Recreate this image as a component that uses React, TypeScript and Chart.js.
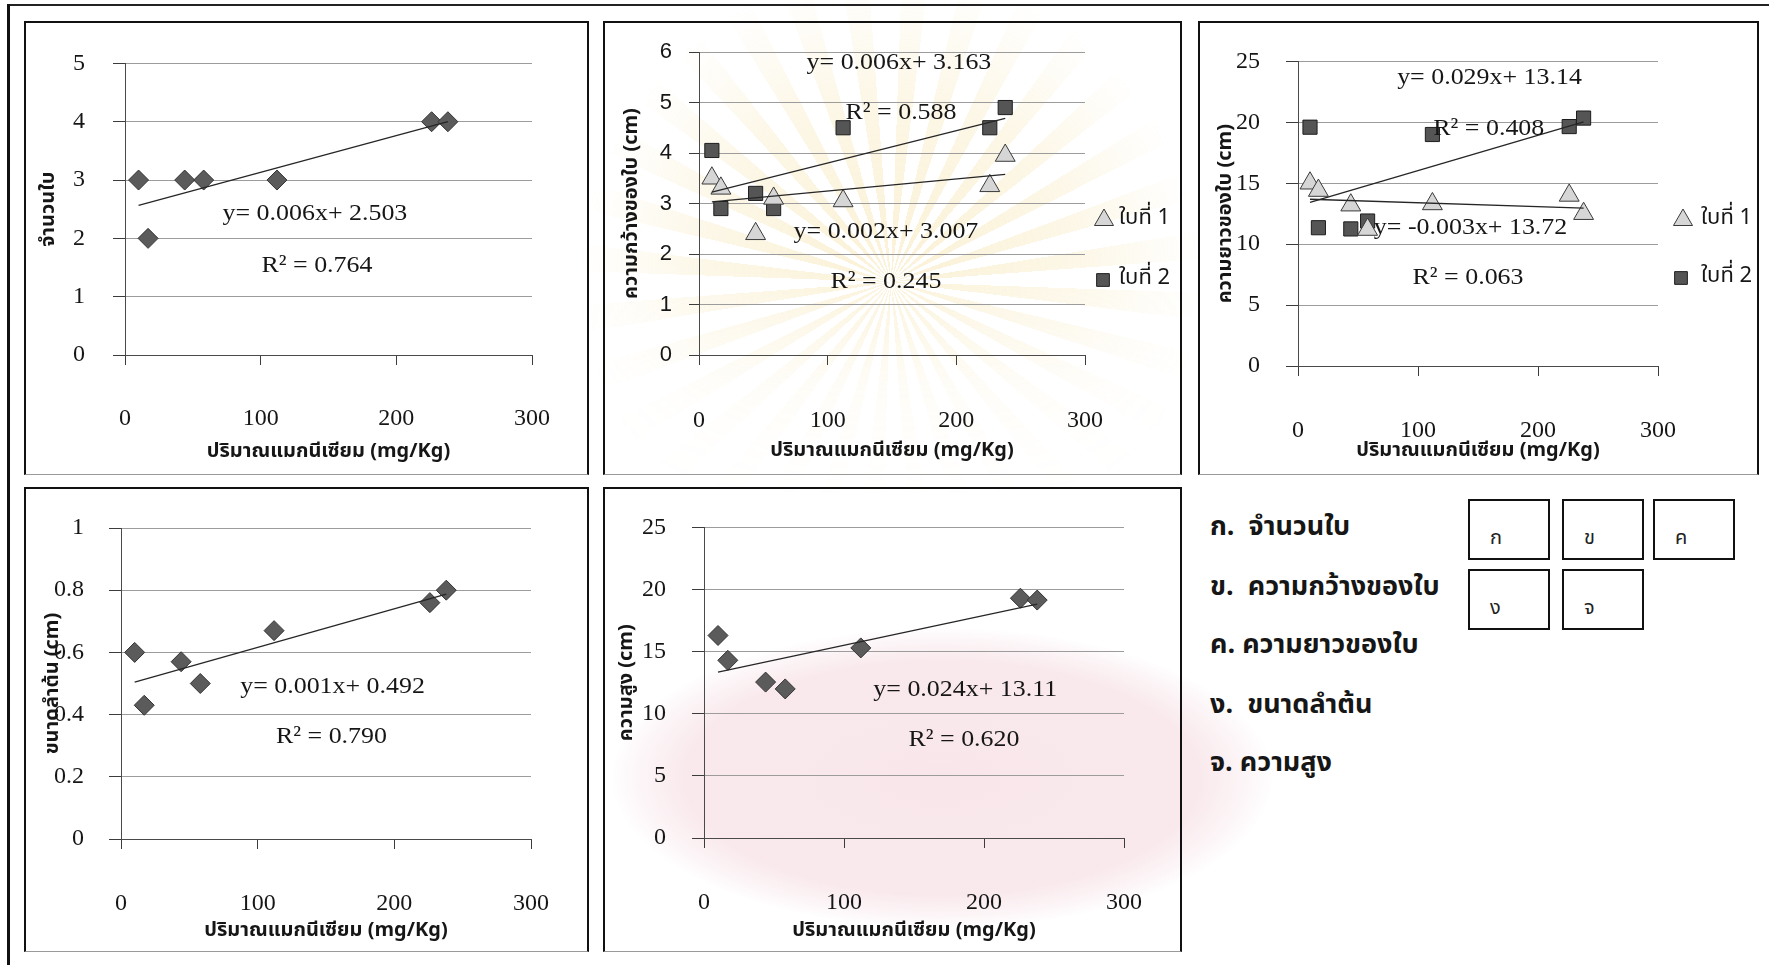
import React, { useEffect, useRef } from 'react';
import { Chart, registerables } from 'chart.js';
import { drawPoint } from 'chart.js/helpers';

Chart.register(...registerables);

// ปริมาณแมกนีเซียมในดิน (mg/Kg) ของแต่ละชุดการทดลอง
const magnesium = [10, 17, 44, 58, 112, 226, 238];
const xTickValues = [0, 100, 200, 300];

// ก. จำนวนใบ
const leafCount = [3, 2, 3, 3, 3, 4, 4];
const leafCountTicks = [0, 1, 2, 3, 4, 5];
// [slope, intercept, R²]; the slope is printed to three decimals
const leafCountFit = [0.0063, 2.503, 0.764];

// ข. ความกว้างของใบ (cm)
const leafWidthFirst = [3.5, 3.3, 2.4, 3.1, 3.05, 3.35, 3.95];
const leafWidthSecond = [4.05, 2.9, 3.2, 2.9, 4.5, 4.5, 4.9];
const leafWidthTicks = [0, 1, 2, 3, 4, 5, 6];
const leafWidthFirstFit = [0.0024, 3.007, 0.245];
const leafWidthSecondFit = [0.0064, 3.163, 0.588];

// ค. ความยาวของใบ (cm)
const leafLengthFirst = [15.0, 14.4, 13.2, 11.2, 13.3, 14.0, 12.5];
const leafLengthSecond = [19.6, 11.35, 11.25, 11.9, 19.0, 19.65, 20.35];
const leafLengthTicks = [0, 5, 10, 15, 20, 25];
const leafLengthFirstFit = [-0.0032, 13.72, 0.063];
const leafLengthSecondFit = [0.029, 13.14, 0.408];

// ง. ขนาดลำต้น (cm)
const stemSize = [0.6, 0.43, 0.57, 0.5, 0.67, 0.76, 0.8];
const stemSizeTicks = [0, 0.2, 0.4, 0.6, 0.8, 1];
const stemSizeFit = [0.00124, 0.492, 0.79];

// จ. ความสูง (cm)
const plantHeight = [16.3, 14.3, 12.55, 12.0, 15.3, 19.3, 19.15];
const plantHeightTicks = [0, 5, 10, 15, 20, 25];
const plantHeightFit = [0.024, 13.11, 0.62];

const seriesNames = ['ใบที่ 1', 'ใบที่ 2'];
const xTitle = 'ปริมาณแมกนีเซียม (mg/Kg)';

const SERIF = "'Liberation Serif', 'Times New Roman', serif";
const SANS = "'Liberation Sans', Arial, sans-serif";
const THAI = "'Noto Sans Thai', 'Noto Serif Thai', 'TH Sarabun New', Garuda, Loma, Kinnari, Norasi, 'Tlwg Typo', 'Liberation Serif', serif";

type Marker = 'diamond' | 'triangle' | 'square';

const markerStyle: Record<Marker, { pointStyle: string; radius: number; fill: string; stroke: string }> = {
  diamond: { pointStyle: 'rectRot', radius: 10, fill: '#5b5b5b', stroke: '#333333' },
  triangle: { pointStyle: 'triangle', radius: 11.5, fill: '#d6d6d6', stroke: '#3a3a3a' },
  square: { pointStyle: 'rect', radius: 10, fill: '#555555', stroke: '#1e1e1e' },
};

type Series = { values: number[]; marker: Marker; fit: number[]; label?: string };
type Note = { text: string; x: number; y: number };
type KeyItem = { series: number; dx: number; tx: number; y: number; radius: number };

type Panel = {
  key: string;
  box: { left: number; top: number; width: number; height: number };
  area: { left: number; top: number; right: number; bottom: number };
  yTicks: number[];
  yTickFont: string;
  yTickSize: number;
  yTickLen: number;
  yTickPad: number;
  yTitle: string;
  yTitlePad: number;
  xTickPad: number;
  xTitlePad: number;
  series: Series[];
  notes: Note[];
  keyItems?: KeyItem[];
};

const eq = (fit: number[]) => `y= ${fit[0].toFixed(3)}x+ ${fit[1]}`;
const r2 = (fit: number[]) => `R² = ${fit[2].toFixed(3)}`;

const panels: Panel[] = [
  {
    key: 'count',
    box: { left: 24, top: 21, width: 565, height: 454 },
    area: { left: 101, top: 40, right: 529, bottom: 334 },
    yTicks: leafCountTicks,
    yTickFont: SERIF,
    yTickSize: 24,
    yTickLen: 12,
    yTickPad: 28,
    yTitle: 'จำนวนใบ',
    yTitlePad: 14,
    xTickPad: 39,
    xTitlePad: 10,
    series: [{ values: leafCount, marker: 'diamond', fit: leafCountFit }],
    notes: [
      { text: eq(leafCountFit), x: 140, y: 2.415 },
      { text: r2(leafCountFit), x: 141.5, y: 1.53 },
    ],
  },
  {
    key: 'width',
    box: { left: 603, top: 21, width: 579, height: 454 },
    area: { left: 96, top: 31, right: 482, bottom: 334 },
    yTicks: leafWidthTicks,
    yTickFont: SANS,
    yTickSize: 22,
    yTickLen: 10,
    yTickPad: 17,
    yTitle: 'ความกว้างของใบ (cm)',
    yTitlePad: 18,
    xTickPad: 41,
    xTitlePad: 11,
    series: [
      { values: leafWidthFirst, marker: 'triangle', fit: leafWidthFirstFit, label: seriesNames[0] },
      { values: leafWidthSecond, marker: 'square', fit: leafWidthSecondFit, label: seriesNames[1] },
    ],
    notes: [
      { text: eq(leafWidthSecondFit), x: 155.4, y: 5.78 },
      { text: r2(leafWidthSecondFit), x: 157, y: 4.79 },
      { text: eq(leafWidthFirstFit), x: 145.3, y: 2.44 },
      { text: r2(leafWidthFirstFit), x: 145.3, y: 1.45 },
    ],
    keyItems: [
      { series: 0, dx: 19, tx: 34, y: 199, radius: 11 },
      { series: 1, dx: 18, tx: 34, y: 259, radius: 9 },
    ],
  },
  {
    key: 'length',
    box: { left: 1198, top: 21, width: 561, height: 454 },
    area: { left: 100, top: 40, right: 460, bottom: 345 },
    yTicks: leafLengthTicks,
    yTickFont: SERIF,
    yTickSize: 24,
    yTickLen: 12,
    yTickPad: 26,
    yTitle: 'ความยาวของใบ (cm)',
    yTitlePad: 17,
    xTickPad: 40,
    xTitlePad: 11,
    series: [
      { values: leafLengthFirst, marker: 'triangle', fit: leafLengthFirstFit, label: seriesNames[0] },
      { values: leafLengthSecond, marker: 'square', fit: leafLengthSecondFit, label: seriesNames[1] },
    ],
    notes: [
      { text: eq(leafLengthSecondFit), x: 159.6, y: 23.69 },
      { text: r2(leafLengthSecondFit), x: 159, y: 19.5 },
      { text: eq(leafLengthFirstFit), x: 143.8, y: 11.39 },
      { text: r2(leafLengthFirstFit), x: 141.7, y: 7.21 },
    ],
    keyItems: [
      { series: 0, dx: 25, tx: 43, y: 199, radius: 11 },
      { series: 1, dx: 23, tx: 43, y: 257, radius: 9 },
    ],
  },
  {
    key: 'stem',
    box: { left: 24, top: 487, width: 565, height: 465 },
    area: { left: 97, top: 41, right: 530, bottom: 352 },
    yTicks: stemSizeTicks,
    yTickFont: SERIF,
    yTickSize: 24,
    yTickLen: 12,
    yTickPad: 25,
    yTitle: 'ขนาดลำต้น (cm)',
    yTitlePad: 18,
    xTickPad: 40,
    xTitlePad: 8,
    series: [{ values: stemSize, marker: 'diamond', fit: stemSizeFit }],
    notes: [
      { text: eq(stemSizeFit), x: 154.8, y: 0.49 },
      { text: r2(stemSizeFit), x: 154, y: 0.329 },
    ],
  },
  {
    key: 'height',
    box: { left: 603, top: 487, width: 579, height: 465 },
    area: { left: 101, top: 40, right: 535, bottom: 351 },
    yTicks: plantHeightTicks,
    yTickFont: SERIF,
    yTickSize: 24,
    yTickLen: 12,
    yTickPad: 26,
    yTitle: 'ความสูง (cm)',
    yTitlePad: 13,
    xTickPad: 40,
    xTitlePad: 8,
    series: [{ values: plantHeight, marker: 'diamond', fit: plantHeightFit }],
    notes: [
      { text: eq(plantHeightFit), x: 186.6, y: 11.9 },
      { text: r2(plantHeightFit), x: 185.7, y: 7.88 },
    ],
  },
];

// Equation and R² text placed in data coordinates
const fitNotesPlugin = {
  id: 'fitNotes',
  afterDatasetsDraw(chart: any, _args: any, opts: any) {
    const items = opts && opts.items;
    if (!items) return;
    const { ctx, scales } = chart;
    for (const n of items) {
      ctx.save();
      ctx.font = `24px ${SERIF}`;
      ctx.fillStyle = '#161616';
      ctx.textAlign = 'center';
      ctx.textBaseline = 'middle';
      ctx.translate(scales.x.getPixelForValue(n.x), scales.y.getPixelForValue(n.y));
      ctx.scale(1.08, 1);
      ctx.fillText(n.text, 0, 0);
      ctx.restore();
    }
  },
};

// Series key drawn beside the plot, using each dataset's own marker styling
const seriesKeyPlugin = {
  id: 'seriesKey',
  afterDraw(chart: any, _args: any, opts: any) {
    const items = opts && opts.items;
    if (!items) return;
    const { ctx, chartArea } = chart;
    ctx.save();
    for (const it of items) {
      const ds = chart.data.datasets[it.series];
      ctx.fillStyle = ds.backgroundColor;
      ctx.strokeStyle = ds.borderColor;
      ctx.lineWidth = 1;
      drawPoint(ctx, { pointStyle: ds.pointStyle, radius: it.radius, borderWidth: 1, rotation: 0 }, chartArea.right + it.dx, it.y);
      ctx.fillStyle = '#161616';
      ctx.font = `22px ${THAI}`;
      ctx.textAlign = 'left';
      ctx.textBaseline = 'middle';
      ctx.fillText(ds.label, chartArea.right + it.tx, it.y);
    }
    ctx.restore();
  },
};

function buildConfig(p: Panel): any {
  const points = p.series.map((s) => ({
    label: s.label || '',
    data: magnesium.map((x, i) => ({ x, y: s.values[i] })),
    pointStyle: markerStyle[s.marker].pointStyle,
    pointRadius: markerStyle[s.marker].radius,
    pointHoverRadius: markerStyle[s.marker].radius,
    backgroundColor: markerStyle[s.marker].fill,
    borderColor: markerStyle[s.marker].stroke,
    pointBorderWidth: 1,
    borderWidth: 1,
    showLine: false,
    order: 2,
  }));
  const xLo = Math.min(...magnesium);
  const xHi = Math.max(...magnesium);
  const trends = p.series.map((s) => ({
    label: '',
    data: [
      { x: xLo, y: s.fit[0] * xLo + s.fit[1] },
      { x: xHi, y: s.fit[0] * xHi + s.fit[1] },
    ],
    showLine: true,
    borderColor: '#262626',
    borderWidth: 1.3,
    pointRadius: 0,
    pointHoverRadius: 0,
    fill: false,
    order: 1,
  }));
  const yTicks = p.yTicks;
  return {
    type: 'scatter',
    data: { datasets: [...points, ...trends] },
    plugins: [fitNotesPlugin, seriesKeyPlugin],
    options: {
      responsive: false,
      maintainAspectRatio: false,
      animation: false,
      devicePixelRatio: 1,
      events: [],
      layout: {
        padding: { left: 0, top: p.area.top, right: p.box.width - p.area.right, bottom: 0 },
      },
      plugins: {
        legend: { display: false },
        tooltip: { enabled: false },
        fitNotes: { items: p.notes },
        seriesKey: { items: p.keyItems || null },
      },
      scales: {
        x: {
          type: 'linear',
          min: xTickValues[0],
          max: xTickValues[xTickValues.length - 1],
          afterBuildTicks: (s: any) => {
            s.ticks = xTickValues.map((v) => ({ value: v }));
          },
          afterFit: (s: any) => {
            s.height = p.box.height - p.area.bottom;
          },
          ticks: {
            font: { family: SERIF, size: 24 },
            color: '#161616',
            padding: p.xTickPad,
            maxRotation: 0,
            autoSkip: false,
            callback: (v: any) => String(v),
          },
          grid: { drawOnChartArea: false, drawTicks: true, tickLength: 10, tickColor: '#3c3c3c', tickWidth: 1 },
          border: { display: true, color: '#4a4a4a', width: 1 },
          title: {
            display: true,
            text: xTitle,
            font: { family: THAI, size: 20, weight: 'bold' },
            color: '#161616',
            padding: { top: 0, bottom: p.xTitlePad },
          },
        },
        y: {
          type: 'linear',
          min: yTicks[0],
          max: yTicks[yTicks.length - 1],
          afterBuildTicks: (s: any) => {
            s.ticks = yTicks.map((v) => ({ value: v }));
          },
          afterFit: (s: any) => {
            s.width = p.area.left;
          },
          ticks: {
            font: { family: p.yTickFont, size: p.yTickSize },
            color: '#161616',
            padding: p.yTickPad,
            autoSkip: false,
            callback: (v: any) => String(v),
          },
          grid: { color: '#9c9c9c', lineWidth: 1, drawTicks: true, tickLength: p.yTickLen, tickColor: '#3c3c3c', tickWidth: 1 },
          border: { display: true, color: '#4a4a4a', width: 1 },
          title: {
            display: true,
            text: p.yTitle,
            font: { family: THAI, size: 20, weight: 'bold' },
            color: '#161616',
            padding: { top: p.yTitlePad, bottom: 0 },
          },
        },
      },
    },
  };
}

function PanelChart({ p }: { p: Panel }) {
  const ref = useRef<HTMLCanvasElement | null>(null);
  useEffect(() => {
    if (!ref.current) return;
    const chart = new Chart(ref.current, buildConfig(p));
    return () => chart.destroy();
  }, [p]);
  return (
    <>
      <canvas
        ref={ref}
        width={p.box.width}
        height={p.box.height}
        style={{ position: 'absolute', left: p.box.left, top: p.box.top, width: p.box.width, height: p.box.height }}
      />
      <div
        style={{
          position: 'absolute',
          left: p.box.left,
          top: p.box.top,
          width: p.box.width,
          height: p.box.height,
          boxSizing: 'border-box',
          borderTop: '2px solid #111',
          borderLeft: '2px solid #111',
          borderRight: '2px solid #111',
          borderBottom: '1px solid #9a9a9a',
          pointerEvents: 'none',
        }}
      />
    </>
  );
}

const keyLines = ['ก.  จำนวนใบ', 'ข.  ความกว้างของใบ', 'ค. ความยาวของใบ', 'ง.  ขนาดลำต้น', 'จ. ความสูง'];
const keyLineY = [527, 587, 645, 705, 763];
const gridLetters = ['ก', 'ข', 'ค', 'ง', 'จ'];
const gridCells = [
  { left: 1468, top: 499 },
  { left: 1562, top: 499 },
  { left: 1653, top: 499 },
  { left: 1468, top: 569 },
  { left: 1562, top: 569 },
];

const rayMask = 'radial-gradient(circle at 50% 50%, rgba(0,0,0,0.85) 8%, rgba(0,0,0,0.55) 30%, rgba(0,0,0,0) 50%)';
const lowerFade = 'linear-gradient(to bottom, rgba(0,0,0,1) 0%, rgba(0,0,0,1) 48%, rgba(0,0,0,0.25) 62%, rgba(0,0,0,0) 75%)';

export default function App() {
  return (
    <div
      style={{
        position: 'absolute',
        left: 0,
        top: 0,
        width: 1769,
        height: 965,
        overflow: 'hidden',
        background: '#ffffff',
        fontFamily: THAI,
      }}
    >
      {/* faint seal in the page background */}
      <div
        style={{
          position: 'absolute',
          left: 891 - 440,
          top: 282 - 440,
          width: 880,
          height: 880,
          WebkitMaskImage: lowerFade,
          maskImage: lowerFade,
        }}
      >
        <div
          style={{
            position: 'absolute',
            inset: 0,
            background:
              'repeating-conic-gradient(from 2deg at 50% 50%, rgba(236, 198, 84, 0.26) 0deg 5deg, rgba(255,255,255,0) 5deg 11.25deg)',
            WebkitMaskImage: rayMask,
            maskImage: rayMask,
          }}
        />
      </div>
      <div
        style={{
          position: 'absolute',
          left: 612,
          top: 628,
          width: 660,
          height: 300,
          borderRadius: '50%',
          background:
            'radial-gradient(ellipse at 50% 50%, rgba(226, 150, 168, 0.24) 0%, rgba(226, 150, 168, 0.21) 55%, rgba(226,150,168,0.08) 66%, rgba(226,150,168,0) 71%)',
        }}
      />

      {/* outer page frame */}
      <div style={{ position: 'absolute', left: 7, top: 4, width: 1770, height: 2, background: '#222' }} />
      <div style={{ position: 'absolute', left: 7, top: 4, width: 3, height: 970, background: '#111' }} />

      {panels.map((p) => (
        <PanelChart key={p.key} p={p} />
      ))}

      {keyLines.map((t, i) => (
        <div
          key={t}
          style={{
            position: 'absolute',
            left: 1210,
            top: keyLineY[i] - 20,
            height: 40,
            lineHeight: '40px',
            fontSize: 27,
            fontWeight: 'bold',
            color: '#161616',
            whiteSpace: 'pre',
          }}
        >
          {t}
        </div>
      ))}

      {gridCells.map((c, i) => (
        <div
          key={gridLetters[i]}
          style={{
            position: 'absolute',
            left: c.left,
            top: c.top,
            width: 82,
            height: 61,
            boxSizing: 'border-box',
            border: '2px solid #111',
          }}
        >
          <span
            style={{
              position: 'absolute',
              left: 20,
              top: 24,
              fontSize: 20,
              lineHeight: '26px',
              color: '#222',
              fontFamily: "'Noto Sans Thai', Loma, Garuda, sans-serif",
            }}
          >
            {gridLetters[i]}
          </span>
        </div>
      ))}
    </div>
  );
}
